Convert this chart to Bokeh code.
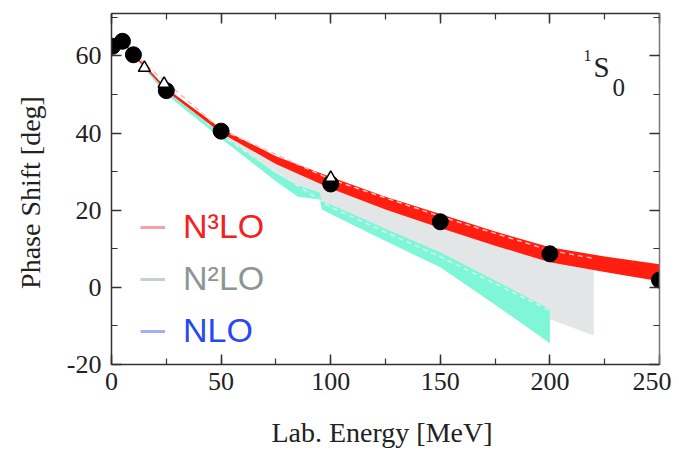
from bokeh.plotting import figure
from bokeh.models import (Range1d, LinearAxis, SingleIntervalTicker, CustomJSTickFormatter,
                          Legend, LegendItem, Label)
from bokeh.embed import file_html
from bokeh.resources import INLINE

# ---- data ----
# N3LO band (red)
e_n3lo = [1, 5, 10, 25, 50, 75, 100, 125, 150, 175, 200, 225, 250]
n3lo_hi = [62.8, 64.0, 60.8, 51.6, 41.2, 34.0, 28.6, 23.5, 19.0, 14.5, 10.4, 8.0, 6.0]
n3lo_lo = [62.2, 63.4, 60.2, 50.9, 40.0, 32.0, 25.6, 20.2, 15.4, 10.8, 6.5, 4.0, 1.6]
# N2LO band (grey)
e_n2lo = [1, 5, 10, 25, 50, 75, 100, 125, 150, 175, 200, 220]
n2lo_hi = [62.6, 63.8, 60.6, 51.4, 40.8, 33.0, 27.0, 21.5, 17.0, 12.0, 8.0, 5.5]
n2lo_lo = [62.0, 63.2, 60.0, 50.5, 39.4, 29.0, 21.0, 14.5, 7.0, -0.5, -8.3, -12.5]
# NLO band (aquamarine)
e_nlo = [1, 5, 10, 25, 50, 75, 85, 95, 96, 100, 125, 150, 175, 200]
nlo_hi = [62.4, 63.6, 60.3, 50.8, 39.9, 29.5, 26.5, 24.5, 22.3, 21.5, 15.2, 9.1, 1.8, -5.7]
nlo_lo = [62.0, 63.2, 59.9, 50.0, 38.6, 27.5, 23.5, 22.8, 20.2, 19.0, 12.0, 5.2, -4.5, -14.5]
# light dashed curves inside the bands
e_dash_n3lo = [10, 50, 100, 150, 200, 220]
dash_n3lo = [60.5, 40.9, 28.0, 18.4, 9.6, 7.5]
e_dash_nlo = [10, 50, 100, 150, 200]
dash_nlo = [60.1, 39.4, 20.8, 7.9, -6.0]
# phase-shift analysis points
e_pts = [0.5, 5, 10, 25, 50, 100, 150, 200, 250]
ps_pts = [62.5, 63.8, 60.3, 51.0, 40.5, 26.8, 17.0, 8.7, 1.9]
e_tri = [15, 24, 100]
ps_tri = [56.9, 52.8, 28.4]

x_ticks_interval = 50
y_ticks_interval = 20
nan = float("nan")

p = figure(frame_width=548, frame_height=351,
           min_border_left=111, min_border_right=12, min_border_top=13, min_border_bottom=86,
           x_range=Range1d(0, 250), y_range=Range1d(-20, 71),
           output_backend="svg", toolbar_location=None)
p.grid.visible = False
p.outline_line_color = None
p.background_fill_color = "white"
p.border_fill_color = "white"

xb = p.below[0]
yl = p.left[0]

# bands
p.varea(x=e_n2lo, y1=n2lo_lo, y2=n2lo_hi, fill_color="#e3e6e6")
p.varea(x=e_nlo, y1=nlo_lo, y2=nlo_hi, fill_color="#7ff6d7")
p.line(x=e_dash_nlo, y=dash_nlo, line_color="#d8f3ec", line_width=1.5, line_dash="5 4")
p.varea(x=e_n3lo, y1=n3lo_lo, y2=n3lo_hi, fill_color="#ff1e10")
p.line(x=e_dash_n3lo, y=dash_n3lo, line_color="#ffb8b8", line_width=1.5, line_dash="5 4")

# data points
p.scatter(x=e_pts, y=ps_pts, marker="circle", size=16, color="black")
p.scatter(x=e_tri, y=ps_tri, marker="triangle", size=12, fill_color="white",
          line_color="black", line_width=1.5)

# axes styling
serif = "Liberation Serif"
xb.ticker = SingleIntervalTicker(interval=x_ticks_interval, num_minor_ticks=2)
yl.ticker = SingleIntervalTicker(interval=y_ticks_interval, num_minor_ticks=2)
yl.formatter = CustomJSTickFormatter(code="return tick.toFixed(0)")
xb.axis_label = "Lab. Energy  [MeV]"
yl.axis_label = "Phase Shift  [deg]"

top = LinearAxis(ticker=SingleIntervalTicker(interval=x_ticks_interval, num_minor_ticks=2),
                 formatter=CustomJSTickFormatter(code="return ''"))
right = LinearAxis(ticker=SingleIntervalTicker(interval=y_ticks_interval, num_minor_ticks=2),
                   formatter=CustomJSTickFormatter(code="return ''"))
p.add_layout(top, "above")
p.add_layout(right, "right")

for ax in [xb, yl, top, right]:
    ax.major_tick_in = 10
    ax.major_tick_out = 0
    ax.minor_tick_in = 6
    ax.minor_tick_out = 0
    ax.axis_line_width = 1.5
    ax.axis_line_color = "#333333"
    ax.major_tick_line_color = "#333333"
    ax.minor_tick_line_color = "#333333"
    ax.major_tick_line_width = 1.5
    ax.minor_tick_line_width = 1.2
    ax.major_label_text_font = serif
    ax.major_label_text_font_size = "26px"
    ax.major_label_text_color = "#222222"
    ax.axis_label_text_font = serif
    ax.axis_label_text_font_size = "28px"
    ax.axis_label_text_font_style = "normal"
    ax.axis_label_text_color = "#222222"
right.axis_line_color = "#777777"
top.major_label_standoff = 0
right.major_label_standoff = 0
xb.major_label_standoff = 8
xb.axis_label_standoff = 24
yl.major_label_standoff = 10
yl.axis_label_standoff = 18

# legend (three separately coloured entries)
leg_specs = [("N³LO", "#f7a0a8", "#f52020", 118),
             ("N²LO", "#c8d0d0", "#8c9696", 66),
             ("NLO", "#a0b0f0", "#2a48f0", 14)]
for label, lcol, tcol, ybot in leg_specs:
    r = p.line(x=[nan, nan], y=[nan, nan], line_color=lcol, line_width=3)
    leg = Legend(items=[LegendItem(label=label, renderers=[r])], location=(29, ybot),
                 background_fill_alpha=0, border_line_alpha=0, padding=0, margin=0,
                 glyph_width=25, glyph_height=30, label_standoff=18,
                 label_text_font="Liberation Sans", label_text_font_size="34px",
                 label_text_color=tcol)
    p.add_layout(leg, "center")

# 1S0 label
p.add_layout(Label(x=472, y=304, x_units="screen", y_units="screen", text="1",
                   text_font=serif, text_font_size="16px", text_color="#222222"))
p.add_layout(Label(x=482, y=282, x_units="screen", y_units="screen", text="S",
                   text_font=serif, text_font_size="29px", text_color="#222222"))
p.add_layout(Label(x=501, y=269, x_units="screen", y_units="screen", text="0",
                   text_font=serif, text_font_size="25px", text_color="#222222"))

open("out.html", "w").write(file_html(p, INLINE))
